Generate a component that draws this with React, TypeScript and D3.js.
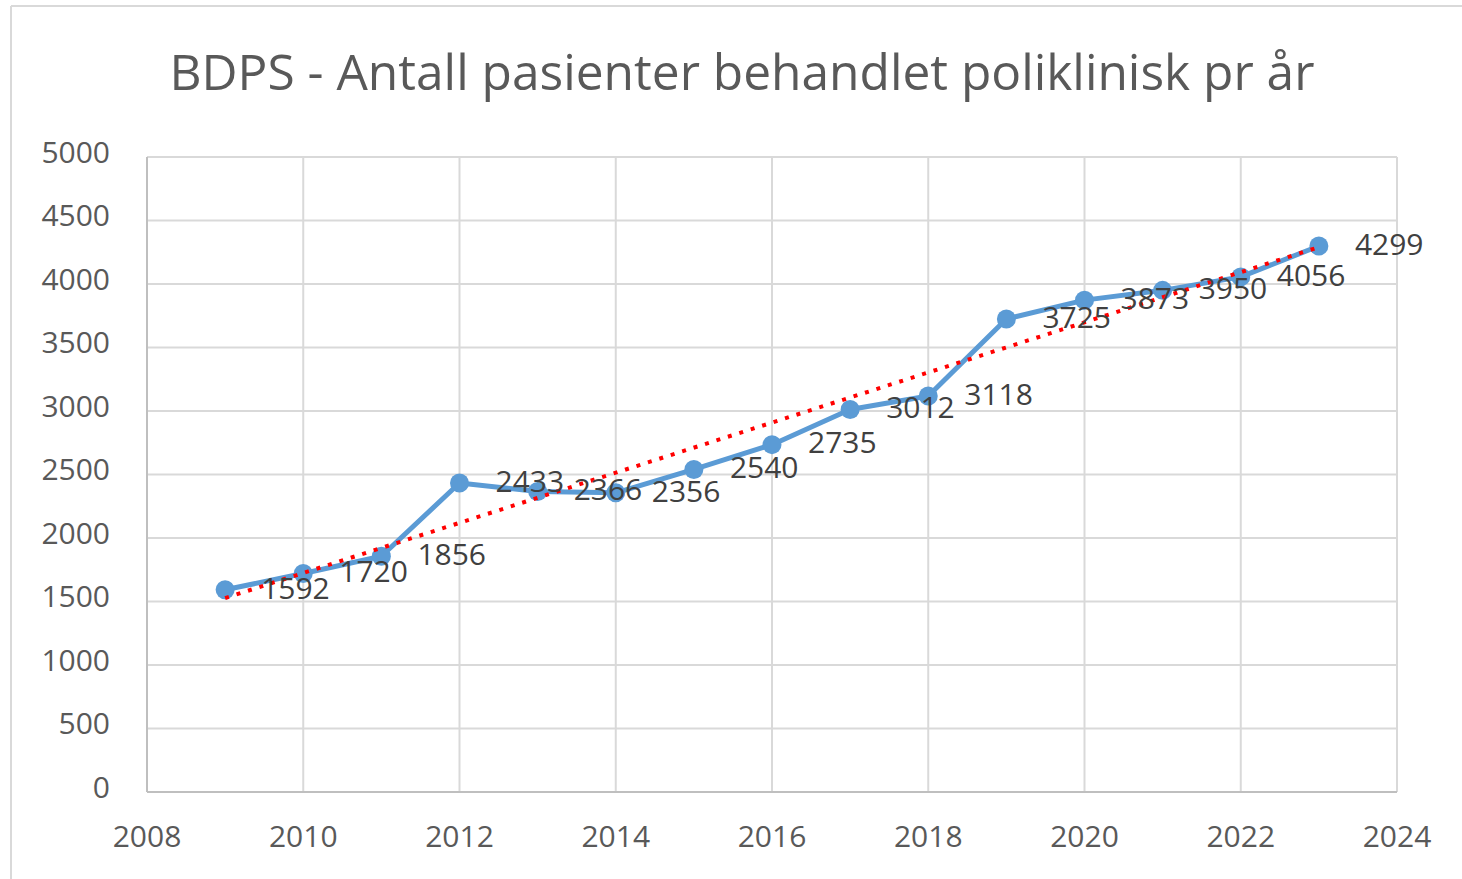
import React from 'react';
import * as d3 from 'd3';

const years = [2009, 2010, 2011, 2012, 2013, 2014, 2015, 2016, 2017, 2018, 2019, 2020, 2021, 2022, 2023];
const patients = [1592, 1720, 1856, 2433, 2366, 2356, 2540, 2735, 3012, 3118, 3725, 3873, 3950, 4056, 4299];
const xTicks = [2008, 2010, 2012, 2014, 2016, 2018, 2020, 2022, 2024];
const yTicks = [0, 500, 1000, 1500, 2000, 2500, 3000, 3500, 4000, 4500, 5000];
const title = 'BDPS - Antall pasienter behandlet poliklinisk pr år';

const width = 1462;
const height = 879;
const margin = { top: 157, right: 65, bottom: 87, left: 147 };
const font = '"Open Sans", "Noto Sans", sans-serif';

export default function App() {
  const x = d3.scaleLinear().domain([2008, 2024]).range([margin.left, width - margin.right]);
  const y = d3.scaleLinear().domain([0, 5000]).range([height - margin.bottom, margin.top]);

  const points = years.map((yr, i) => ({ yr, v: patients[i] }));

  const line = d3
    .line<{ yr: number; v: number }>()
    .x((d) => x(d.yr))
    .y((d) => y(d.v));

  // linear trendline, least squares
  const mx = d3.mean(years)!;
  const my = d3.mean(patients)!;
  const slope =
    d3.sum(points, (d) => (d.yr - mx) * (d.v - my)) / d3.sum(points, (d) => (d.yr - mx) ** 2);
  const trend = (yr: number) => my + slope * (yr - mx);
  const x0 = years[0];
  const x1 = years[years.length - 1];

  return (
    <svg
      width={width}
      height={height}
      style={{ position: 'absolute', left: 0, top: 0, background: '#fff' }}
    >
      {/* chart frame */}
      <line x1={11} x2={width} y1={6} y2={6} stroke="#d9d9d9" strokeWidth={2} />
      <line x1={11} x2={11} y1={6} y2={height} stroke="#d9d9d9" strokeWidth={2} />

      <text
        x={742}
        y={90}
        textAnchor="middle"
        fontFamily={font}
        fontSize={50}
        fill="#595959"
        textLength={1145}
        lengthAdjust="spacingAndGlyphs"
      >
        {title}
      </text>

      {/* gridlines */}
      {yTicks.map((t) => (
        <line
          key={'gy' + t}
          x1={x(2008)}
          x2={x(2024)}
          y1={y(t)}
          y2={y(t)}
          stroke="#d9d9d9"
          strokeWidth={2}
        />
      ))}
      {xTicks.map((t) => (
        <line
          key={'gx' + t}
          x1={x(t)}
          x2={x(t)}
          y1={y(0)}
          y2={y(5000)}
          stroke="#d9d9d9"
          strokeWidth={2}
        />
      ))}
      {/* axes */}
      <line x1={x(2008)} x2={x(2024)} y1={y(0)} y2={y(0)} stroke="#bfbfbf" strokeWidth={2} />
      <line x1={x(2008)} x2={x(2008)} y1={y(0)} y2={y(5000)} stroke="#bfbfbf" strokeWidth={2} />

      {yTicks.map((t) => (
        <text
          key={'ty' + t}
          x={110}
          y={y(t) - 5}
          dy="0.36em"
          textAnchor="end"
          fontFamily={font}
          fontSize={30}
          fill="#595959"
        >
          {t}
        </text>
      ))}
      {xTicks.map((t) => (
        <text
          key={'tx' + t}
          x={x(t)}
          y={847}
          textAnchor="middle"
          fontFamily={font}
          fontSize={30}
          fill="#595959"
        >
          {t}
        </text>
      ))}

      {/* series */}
      <path d={line(points)!} fill="none" stroke="#5b9bd5" strokeWidth={5} strokeLinejoin="round" />
      {points.map((d) => (
        <circle key={'c' + d.yr} cx={x(d.yr)} cy={y(d.v)} r={9.5} fill="#5b9bd5" />
      ))}

      <line
        x1={x(x0)}
        y1={y(trend(x0))}
        x2={x(x1)}
        y2={y(trend(x1))}
        stroke="#ff0000"
        strokeWidth={4}
        strokeDasharray="4 8"
      />

      {points.map((d) => (
        <text
          key={'l' + d.yr}
          x={x(d.yr) + 36}
          y={y(d.v) - 2}
          dy="0.36em"
          fontFamily={font}
          fontSize={30}
          fill="#404040"
        >
          {d.v}
        </text>
      ))}
    </svg>
  );
}
